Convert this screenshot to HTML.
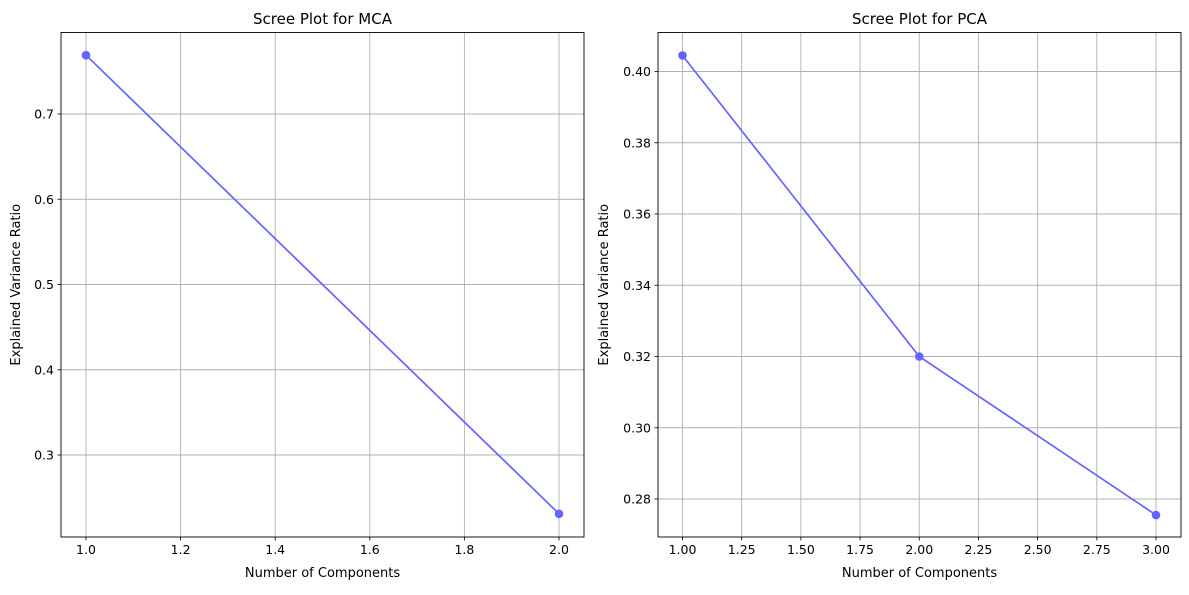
<!DOCTYPE html>
<html><head><meta charset="utf-8"><style>
body{margin:0;background:#fff;font-family:"Liberation Sans","DejaVu Sans",sans-serif}
svg text{font-family:"DejaVu Sans","Liberation Sans",sans-serif}
</style></head><body>
<svg id="c" width="1189" height="590" xmlns="http://www.w3.org/2000/svg"></svg>
<script>
const mcaComponents=[1,2];
const mcaValues=[0.769,0.231];
const mcaXTicks=[1.0,1.2,1.4,1.6,1.8,2.0];
const mcaXLabels=["1.0","1.2","1.4","1.6","1.8","2.0"];
const mcaYTicks=[0.3,0.4,0.5,0.6,0.7];
const mcaYLabels=["0.3","0.4","0.5","0.6","0.7"];
const pcaComponents=[1,2,3];
const pcaValues=[0.4045,0.32,0.2755];
const pcaXTicks=[1.0,1.25,1.5,1.75,2.0,2.25,2.5,2.75,3.0];
const pcaXLabels=["1.00","1.25","1.50","1.75","2.00","2.25","2.50","2.75","3.00"];
const pcaYTicks=[0.28,0.30,0.32,0.34,0.36,0.38,0.40];
const pcaYLabels=["0.28","0.30","0.32","0.34","0.36","0.38","0.40"];

const NS="http://www.w3.org/2000/svg";
const svg=document.getElementById('c');
function mk(tag,attrs,parent,text){const e=document.createElementNS(NS,tag);for(const k in attrs)e.setAttribute(k,attrs[k]);if(text!==undefined)e.textContent=text;(parent||svg).appendChild(e);return e;}
function lin(d0,d1,r0,r1){return v=>r0+(v-d0)/(d1-d0)*(r1-r0);}

function panel(p){
  const g=mk('g',{});
  
  
  const L=p.left,R=p.right,T=32.5,B=537;
  const x=lin(p.xd[0],p.xd[1],p.xr[0],p.xr[1]);
  const y=lin(p.yd[0],p.yd[1],p.yr[0],p.yr[1]);
  p.xt.forEach((t,i)=>{
    const X=x(t);
    const gl=mk('line',{x1:X,x2:X,y1:T,y2:B,stroke:'#b0b0b0','stroke-width':0.9},g);
    
    
    mk('line',{x1:X,x2:X,y1:B,y2:B+3.5,stroke:'#000','stroke-width':0.8},g);
    const tl=mk('text',{x:X,y:B+17,'text-anchor':'middle','font-size':12.5},g,p.xl[i]);
    
    
  });
  p.yt.forEach((t,i)=>{
    const Y=y(t);
    const gl=mk('line',{x1:L,x2:R,y1:Y,y2:Y,stroke:'#b0b0b0','stroke-width':0.9},g);
    
    
    mk('line',{x1:L-3.5,x2:L,y1:Y,y2:Y,stroke:'#000','stroke-width':0.8},g);
    const tl=mk('text',{x:L-7,y:Y+4.5,'text-anchor':'end','font-size':12.5},g,p.yl[i]);
    
    
  });
  const pts=p.cx.map((c,i)=>x(c)+','+y(p.v[i])).join(' ');
  const line=mk('polyline',{points:pts,fill:'none',stroke:'#6464ff','stroke-width':1.7},g);
  
  
  p.cx.forEach((c,i)=>{
    const pt=mk('circle',{cx:x(c),cy:y(p.v[i]),r:4.3,fill:'#6464ff'},g);
    
    
  });
  const fr=mk('rect',{x:L,y:T,width:R-L,height:B-T,fill:'none',stroke:'#000','stroke-width':0.9},g);
  
  
  const ti=mk('text',{x:(L+R)/2,y:24,'text-anchor':'middle','font-size':15},g,p.title);
  
  
  const xt=mk('text',{x:(L+R)/2,y:577,'text-anchor':'middle','font-size':13},g,'Number of Components');
  
  
  const yt=mk('text',{x:0,y:0,'text-anchor':'middle','font-size':13,transform:`translate(${p.ytx},${(T+B)/2}) rotate(-90)`},g,'Explained Variance Ratio');
  
  
}
panel({name:'mca-panel',title:'Scree Plot for MCA',left:61,right:584,xd:[1,2],xr:[86,559],yd:[0.3,0.7],yr:[455,114],
  xt:mcaXTicks,xl:mcaXLabels,yt:mcaYTicks,yl:mcaYLabels,cx:mcaComponents,v:mcaValues,ytx:20});
panel({name:'pca-panel',title:'Scree Plot for PCA',left:658,right:1181,xd:[1,3],xr:[682.5,1156],yd:[0.28,0.40],yr:[499,71.5],
  xt:pcaXTicks,xl:pcaXLabels,yt:pcaYTicks,yl:pcaYLabels,cx:pcaComponents,v:pcaValues,ytx:608});
</script>
</body></html>
